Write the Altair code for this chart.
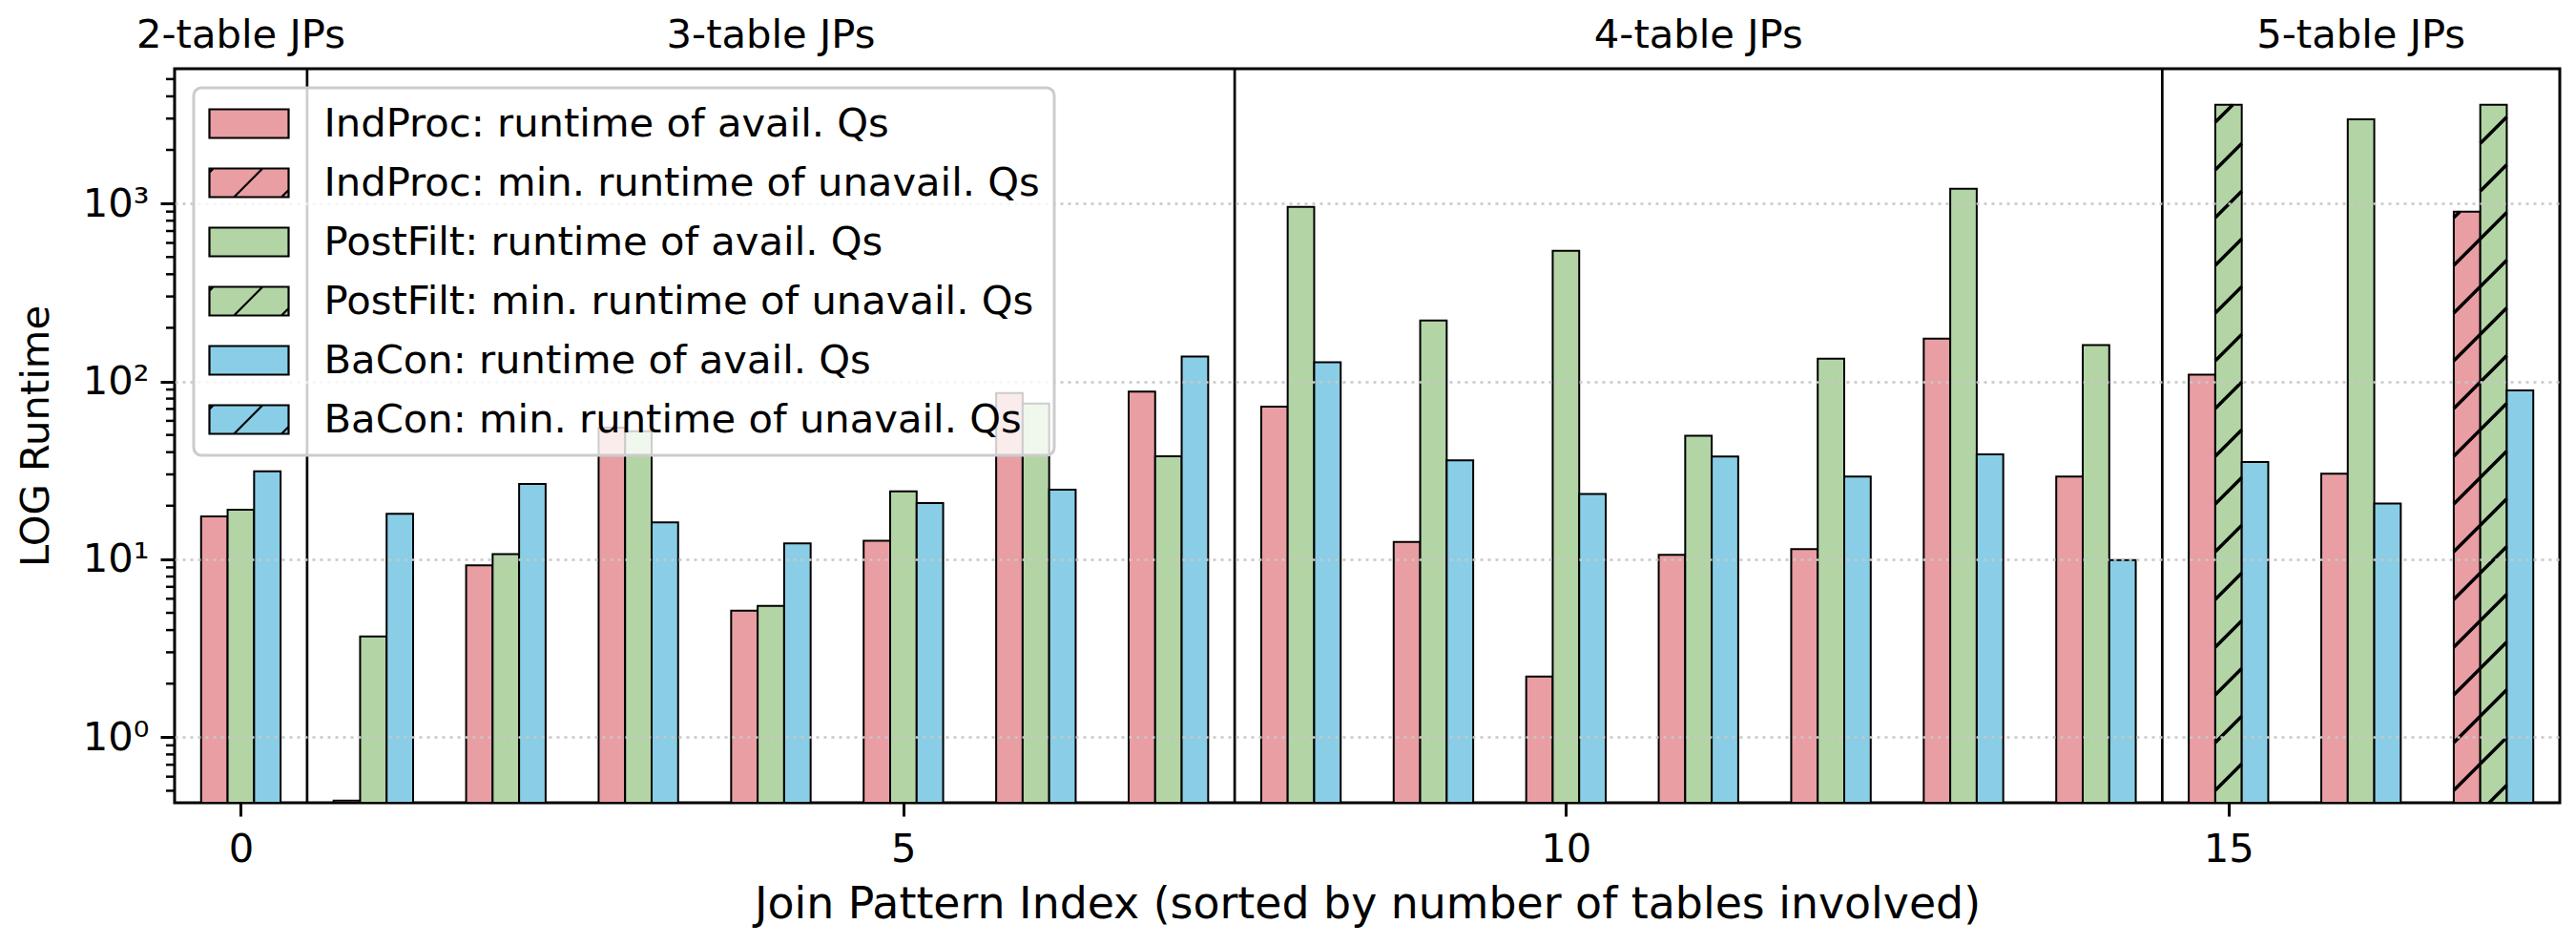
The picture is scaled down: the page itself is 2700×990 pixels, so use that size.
import math
import altair as alt
import pandas as pd

# ---------------- data ----------------
jp_index = list(range(18))
indproc = [17.4, 0.44, 9.26, 55, 5.15, 12.7, 86, 87.7, 72, 12.5, 2.19, 10.6, 11.4, 174, 29.2, 109, 30.3, 900]
postfilt = [19.0, 3.68, 10.7, 52.5, 5.47, 24.1, 75, 37.9, 955, 220, 542, 49.5, 134, 1208, 160, 3590, 2970, 3590]
bacon = [31.2, 18.0, 26.5, 16.1, 12.3, 20.7, 24.6, 138, 128, 36, 23.3, 37.8, 29.2, 38.9, 9.9, 35.2, 20.6, 89]
indproc_unavail = [17]
postfilt_unavail = [15, 17]
bacon_unavail = []

series_labels = [
    "IndProc: runtime of avail. Qs",
    "IndProc: min. runtime of unavail. Qs",
    "PostFilt: runtime of avail. Qs",
    "PostFilt: min. runtime of unavail. Qs",
    "BaCon: runtime of avail. Qs",
    "BaCon: min. runtime of unavail. Qs",
]
series_colors = ["#E89EA2", "#E89EA2", "#B3D4A5", "#B3D4A5", "#89CEE6", "#89CEE6"]

group_labels = ["2-table JPs", "3-table JPs", "4-table JPs", "5-table JPs"]
group_pos = [0, 4, 11, 16]
separators = [0.5, 7.5, 14.5]

y_major = [1, 10, 100, 1000]
y_minor = [0.5, 0.6, 0.7, 0.8, 0.9,
           2, 3, 4, 5, 6, 7, 8, 9,
           20, 30, 40, 50, 60, 70, 80, 90,
           200, 300, 400, 500, 600, 700, 800, 900,
           2000, 3000, 4000, 5000]
x_ticks = [0, 5, 10, 15]

# ---------------- table ----------------
rows = []
for m, vals, unav in [("IndProc", indproc, indproc_unavail),
                      ("PostFilt", postfilt, postfilt_unavail),
                      ("BaCon", bacon, bacon_unavail)]:
    for i, v in zip(jp_index, vals):
        h = i in unav
        lab = f"{m}: min. runtime of unavail. Qs" if h else f"{m}: runtime of avail. Qs"
        rows.append({"idx": i, "method": m, "value": v, "hatched": h, "series": lab})
df = pd.DataFrame(rows)

# ---------------- layout constants ----------------
W, H = 2500, 769
Y_MIN, Y_MAX = 0.428, 5718
X_MIN, X_MAX = -0.5, 17.5
FS = 41.7
FS_XT = 45.8
FONT = "DejaVu Sans"
BAR_W = 0.2

xs = alt.Scale(domain=[X_MIN, X_MAX], nice=False, zero=False)
ys = alt.Scale(type="log", domain=[Y_MIN, Y_MAX], nice=False)

# hatch geometry (45 degree lines, ~50px apart vertically)
px_per_dec = H / math.log10(Y_MAX / Y_MIN)
px_per_unit = W / (X_MAX - X_MIN)
S = px_per_unit / px_per_dec
SP = 50 / px_per_dec
C0 = 0.133
B = math.log10(Y_MIN)

# legend handle: 83 x 30 px rectangle, laid out with a 42 px symbol size
SYM = 42
k = 41.5 / (SYM / 2)


def path(segs, close=False):
    out = ""
    for seg in segs:
        out += "M" + "L".join(f"{x * k:.4f},{y * k:.4f}" for x, y in seg)
        if close:
            out += "Z"
    return out


RECT = path([[(-1, -0.361), (1, -0.361), (1, 0.361), (-1, 0.361)]], close=True)
HATCH = RECT + path([[(-0.38, 0.361), (0.342, -0.361)],
                     [(0.82, 0.361), (1, 0.181)],
                     [(-1, -0.26), (-0.9, -0.361)]])
shape_range = [RECT, HATCH, RECT, HATCH, RECT, HATCH]

color_scale = alt.Scale(domain=series_labels, range=series_colors)
shape_scale = alt.Scale(domain=series_labels, range=shape_range)

off_expr = "datum.method == 'IndProc' ? -0.2 : (datum.method == 'PostFilt' ? 0 : 0.2)"

y_axis = alt.Axis(
    values=y_major,
    labelExpr="datum.value == 1 ? '10\u2070' : datum.value == 10 ? '10\u00b9' : datum.value == 100 ? '10\u00b2' : '10\u00b3'",
    tickSize=15, tickWidth=3, tickColor="black", domain=False,
    grid=True, gridDash=[3, 5], gridColor="#c8c8c8", gridWidth=2.5,
    labelFont=FONT, labelFontSize=FS, labelColor="black", labelPadding=12,
    title="LOG Runtime", titleFont=FONT, titleFontSize=FS, titleFontWeight="normal",
    titleColor="black", titleX=-146, titleY=H / 2, titleAlign="center", titleBaseline="middle",
    zindex=1,
)
x_axis = alt.Axis(
    values=x_ticks, tickSize=14, tickWidth=3, tickColor="black", domain=False, grid=False,
    labelFont=FONT, labelFontSize=FS, labelColor="black", labelPadding=14,
    title="Join Pattern Index (sorted by number of tables involved)",
    titleFont=FONT, titleFontSize=FS_XT, titleFontWeight="normal", titleColor="black",
    titleY=120, titleBaseline="alphabetic",
    zindex=1,
)

leg = dict(
    title=None, orient="top-left", offset=20, padding=15,
    fillColor="rgba(255,255,255,0.8)", strokeColor="#cccccc", cornerRadius=8,
    labelFont=FONT, labelFontSize=FS, labelColor="black", labelLimit=0, labelOffset=56,
    symbolSize=SYM * SYM, symbolOffset=20.5, symbolStrokeWidth=2.2,
    symbolOpacity=1, rowPadding=17, zindex=2,
)

legend_pts = alt.Chart(df).mark_point(filled=True, size=0, opacity=1, stroke="black", strokeWidth=2.2).encode(
    x=alt.X("idx:Q", scale=xs, axis=x_axis),
    y=alt.Y("value:Q", scale=ys, axis=y_axis),
    fill=alt.Fill("series:N", scale=color_scale, legend=alt.Legend(**leg)),
    shape=alt.Shape("series:N", scale=shape_scale, legend=alt.Legend(**leg)),
)

bars = alt.Chart(df).transform_calculate(
    off=off_expr, base=str(Y_MIN)
).transform_calculate(
    x0=f"datum.idx + datum.off - {BAR_W/2}", x1=f"datum.idx + datum.off + {BAR_W/2}"
).mark_bar(stroke="black", strokeWidth=2, opacity=1).encode(
    x=alt.X("x0:Q", scale=xs, axis=x_axis),
    x2="x1:Q",
    y=alt.Y("value:Q", scale=ys, axis=y_axis),
    y2="base:Q",
    fill=alt.Fill("series:N", scale=color_scale, legend=alt.Legend(**leg)),
)

hatch = alt.Chart(df).transform_filter("datum.hatched").transform_calculate(
    off=off_expr
).transform_calculate(
    xl=f"datum.idx + datum.off - {BAR_W/2}",
    T="log(datum.value) / LN10",
    k="sequence(-90, 40)",
).transform_flatten(["k"]).transform_calculate(
    L=f"{S} * datum.xl + {C0} + datum.k * {SP}"
).transform_calculate(
    R=f"datum.L + {S * BAR_W}"
).transform_filter(f"datum.R > {B} && datum.L < datum.T").transform_calculate(
    xs_=f"datum.xl + (max(datum.L, {B}) - datum.L) / {S}",
    xe_=f"datum.xl + (min(datum.R, datum.T) - datum.L) / {S}",
    ys_=f"pow(10, max(datum.L, {B}))",
    ye_=f"pow(10, min(datum.R, datum.T))",
).mark_rule(color="black", strokeWidth=3.5).encode(
    x=alt.X("xs_:Q", scale=xs, axis=x_axis),
    x2="xe_:Q",
    y=alt.Y("ys_:Q", scale=ys, axis=y_axis),
    y2="ye_:Q",
)

seps = alt.Chart(pd.DataFrame({"s": separators})).mark_rule(color="black", strokeWidth=2.7).encode(
    x=alt.X("s:Q", scale=xs, axis=x_axis)
)

minor = alt.Chart(pd.DataFrame({"m": y_minor})).mark_rule(color="black", strokeWidth=2.5).encode(
    y=alt.Y("m:Q", scale=ys, axis=y_axis),
    x=alt.value(-9), x2=alt.value(0),
)

groups = alt.Chart(pd.DataFrame({"label": group_labels, "pos": group_pos})).mark_text(
    font=FONT, fontSize=FS, baseline="alphabetic", align="center", color="black"
).encode(
    x=alt.X("pos:Q", scale=xs, axis=x_axis),
    y=alt.value(-22),
    text="label:N",
)

chart = alt.layer(legend_pts, bars, hatch, seps, minor, groups).properties(
    width=W, height=H,
    autosize=alt.AutoSizeParams(type="none"),
    padding={"left": 183, "top": 72, "right": 17, "bottom": 149},
    background="white",
).configure(font=FONT).configure_view(
    stroke="black", strokeWidth=3
).configure_legend(
    strokeWidth=3, symbolStrokeWidth=2.2, symbolOpacity=1
)

chart.save("out.html", embed_options={"renderer": "svg", "actions": False})
